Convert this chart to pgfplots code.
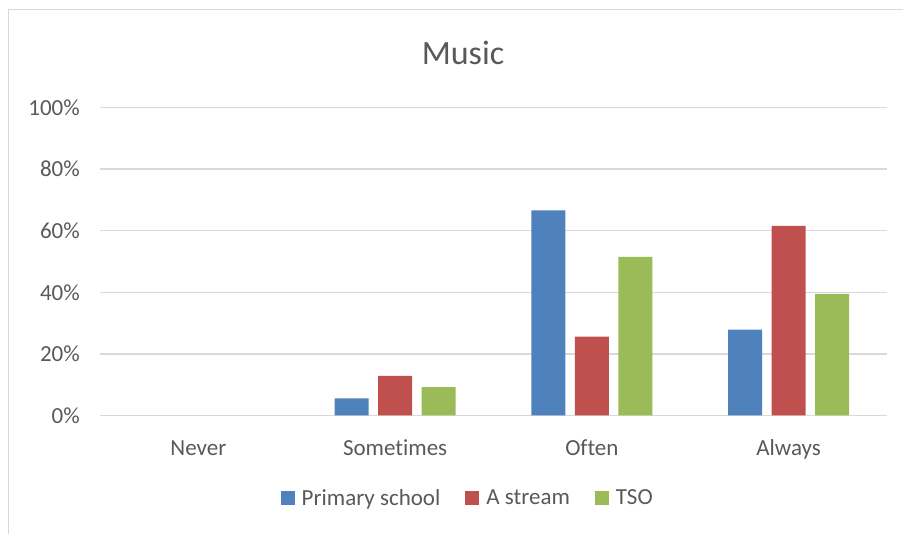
\documentclass[border=0pt]{standalone}
\usepackage{pgfplots}
\pgfplotsset{compat=1.18}
\usepackage{fontspec}
\setmainfont{Carlito}[Ligatures=NoCommon]
\definecolor{cblue}{HTML}{4F81BD}
\definecolor{cred}{HTML}{C0504D}
\definecolor{cgreen}{HTML}{9BBB59}
\definecolor{textgray}{HTML}{595959}
\definecolor{gridgray}{HTML}{D9D9D9}
\begin{document}
\begin{tikzpicture}[x=1pt,y=1pt]
\useasboundingbox (0,0) rectangle (903,-534);
\draw[color=gridgray, line width=1.3pt] (8.5,-534) -- (8.5,-9.5) -- (903,-9.5);
\node[text=textgray, font=\fontsize{34}{40}\selectfont] at (463,-53) {Music};
\begin{axis}[
  at={(100pt,-415.5pt)}, anchor=south west,
  width=787pt, height=308pt, scale only axis,
  xmin=-0.5, xmax=3.5, ymin=0, ymax=100,
  ybar=9.5pt, bar width=34pt,
  axis line style={draw=none},
  major tick length=0pt,
  ymajorgrids, grid style={color=gridgray, line width=1.3pt},
  ytick={0,20,40,60,80,100},
  yticklabels={0\%,20\%,40\%,60\%,80\%,100\%},
  xtick={0,1,2,3},
  xticklabels={Never,Sometimes,Often,Always},
  tick label style={font=\fontsize{23}{27}\selectfont, text=textgray, inner sep=0pt},
  yticklabel style={anchor=east, xshift=-20pt},
  xticklabel style={anchor=base, yshift=-39.5pt},
  legend columns=3,
  legend style={at={(0.466,-0.268)}, anchor=center, draw=none, fill=none,
    font=\fontsize{23}{27}\selectfont, text=textgray,
    nodes={inner sep=0pt},
    /tikz/every odd column/.append style={column sep=7pt},
    /tikz/every even column/.append style={column sep=25pt}},
  clip=false,
]
\addplot[fill=cblue, draw=none, legend image code/.code={\fill[cblue] (0pt,-7pt) rectangle (14pt,7pt);}]
  coordinates {(1,5.6) (2,66.6) (3,27.9)};
\addplot[fill=cred, draw=none, legend image code/.code={\fill[cred] (0pt,-7pt) rectangle (14pt,7pt);}]
  coordinates {(1,12.9) (2,25.6) (3,61.6)};
\addplot[fill=cgreen, draw=none, legend image code/.code={\fill[cgreen] (0pt,-7pt) rectangle (14pt,7pt);}]
  coordinates {(1,9.2) (2,51.5) (3,39.5)};
\legend{Primary school, A stream, TSO}
\end{axis}
\end{tikzpicture}
\end{document}
